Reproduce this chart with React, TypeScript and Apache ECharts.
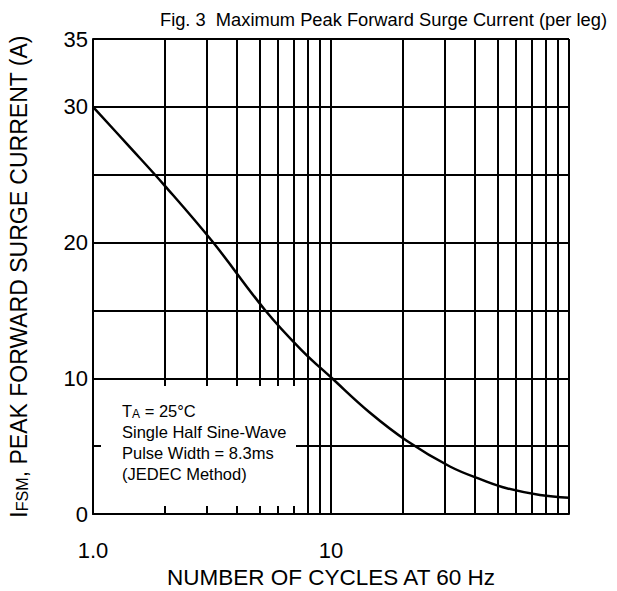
import React, { useEffect, useRef } from "react";
import * as echarts from "echarts";

const cycles = [1, 1.4, 2, 3.2, 5.3, 7.5, 10.1, 14.5, 20.8, 31.6, 43.4, 54.7, 75.5, 100];
const current = [30, 27.2, 24.2, 20, 15, 12.1, 10, 7.5, 5.4, 3.5, 2.5, 1.9, 1.4, 1.2];
const minorX = [2, 3, 4, 5, 6, 7, 8, 9, 20, 30, 40, 50, 60, 70, 80, 90];
const yLabelValues = [0, 10, 20, 30, 35];
const xLabelMap: Record<number, string> = { 1: "1.0", 10: "10" };
const boxLines = ["{m|T}{sub|A}{m| = 25°C}", "Single Half Sine-Wave", "Pulse Width = 8.3ms", "(JEDEC Method)"];

const FONT = "Liberation Sans, Arial, Helvetica, sans-serif";

export default function App() {
  const ref = useRef<HTMLDivElement>(null);
  useEffect(() => {
    if (!ref.current) return;
    const chart = echarts.init(ref.current, null, { renderer: "svg" });
    const boxY = [411, 432, 453, 474];
    chart.setOption({
      animation: false,
      backgroundColor: "#fff",
      textStyle: { fontFamily: FONT, color: "#000" },
      title: {
        text: "Fig. 3  Maximum Peak Forward Surge Current (per leg)",
        right: 5,
        top: 5,
        textStyle: { fontFamily: FONT, fontSize: 18.3, fontWeight: "normal", color: "#000" },
      },
      grid: { left: 93, right: 48, top: 39, bottom: 77, containLabel: false, outerBoundsMode: "none" },
      xAxis: {
        type: "log",
        logBase: 10,
        min: 1,
        max: 100,
        name: "NUMBER OF CYCLES AT 60 Hz",
        nameLocation: "middle",
        nameGap: 52,
        nameTextStyle: { fontFamily: FONT, fontSize: 22.5, color: "#000" },
        axisLine: { show: true, lineStyle: { color: "#000", width: 2 } },
        axisTick: { show: false },
        axisLabel: {
          fontFamily: FONT,
          fontSize: 22,
          color: "#000",
          margin: 25,
          formatter: (v: number) => xLabelMap[Math.round(v)] ?? "",
        },
        splitLine: { show: true, lineStyle: { color: "#000", width: 2 } },
        minorTick: { show: false },
        minorSplitLine: { show: false },
      },
      yAxis: {
        type: "value",
        min: 0,
        max: 35,
        interval: 5,
        name: "{m|I}{sub|FSM}{m|, PEAK FORWARD SURGE CURRENT (A)}",
        nameLocation: "middle",
        nameGap: 63,
        nameTextStyle: {
          fontFamily: FONT,
          fontSize: 23,
          color: "#000",
          rich: {
            m: { fontFamily: FONT, fontSize: 23, color: "#000", lineHeight: 25, verticalAlign: "bottom" },
            sub: { fontFamily: FONT, fontSize: 16, color: "#000", lineHeight: 18, padding: [11, 0, 0, 0], verticalAlign: "bottom" },
          },
        },
        axisLine: { show: true, lineStyle: { color: "#000", width: 2 } },
        axisTick: { show: false },
        axisLabel: {
          fontFamily: FONT,
          fontSize: 22,
          color: "#000",
          margin: 5,
          formatter: (v: number) => (yLabelValues.includes(v) ? String(v) : ""),
        },
        splitLine: { show: true, lineStyle: { color: "#000", width: 2 } },
      },
      series: [
        {
          type: "line",
          data: cycles.map((c, i) => [c, current[i]]),
          smooth: 0.4,
          symbol: "none",
          lineStyle: { color: "#000", width: 2.5 },
          z: 3,
          markLine: {
            silent: true,
            symbol: "none",
            label: { show: false },
            lineStyle: { color: "#000", width: 2, type: "solid" },
            data: minorX.map((v) => ({ xAxis: v })),
            z: 1,
          },
        },
      ],
      graphic: [
        {
          type: "rect",
          z: 100,
          shape: { x: 101, y: 386, width: 195, height: 120 },
          style: { fill: "#fff" },
        },
        ...boxLines.map((t, i) => ({
          type: "text",
          z: 101,
          x: 122,
          y: boxY[i],
          style: {
            text: t,
            fontFamily: FONT,
            fontSize: 16.5,
            fill: "#000",
            verticalAlign: "middle",
            lineHeight: 17,
            rich: {
              m: { fontFamily: FONT, fontSize: 16.5, fill: "#000", lineHeight: 17, verticalAlign: "bottom" },
              sub: { fontFamily: FONT, fontSize: 12, fill: "#000", lineHeight: 12, padding: [7, 0, 0, 0], verticalAlign: "bottom" },
            },
          },
        })),
      ],
    });
    return () => chart.dispose();
  }, []);
  return <div ref={ref} style={{ width: 617, height: 591, position: "absolute", left: 0, top: 0 }} />;
}
